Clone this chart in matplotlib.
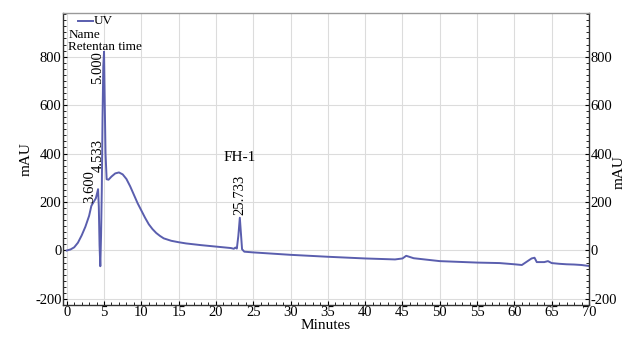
import numpy as np
import matplotlib
matplotlib.use("Agg")
import matplotlib.pyplot as plt
from matplotlib.ticker import MultipleLocator

plt.rcParams['font.family'] = ['Liberation Serif', 'DejaVu Serif']
plt.rcParams['axes.unicode_minus'] = False

# Chromatogram trace (time in minutes, absorbance in mAU)
time_min = [0.0, 0.5, 1.0, 1.5, 2.0, 2.5, 3.0, 3.3, 3.6, 3.9, 4.1, 4.2, 4.3, 4.4, 4.5,
            4.6, 4.7, 4.8, 4.9, 5.0, 5.1, 5.2, 5.35, 5.6, 6.0, 6.5, 7.0, 7.5, 8.0,
            8.5, 9.0, 9.5, 10.0, 10.5, 11.0, 11.5, 12.0, 12.5, 13.0, 14.0, 15.0,
            16.0, 18.0, 20.0, 22.0, 22.4, 22.6, 22.8, 23.0, 23.2, 23.35, 23.5, 23.8,
            25.0, 30.0, 35.0, 40.0, 44.0, 45.0, 45.5, 46.5, 50.0, 55.0, 58.0, 60.0,
            61.0, 62.3, 62.7, 63.0, 64.0, 64.5, 65.0, 66.0, 67.0, 68.0, 69.0, 70.0]
signal_mau = [0, 4, 13, 32, 62, 98, 143, 184, 200, 215, 240, 253, 180, 20, -65,
              60, 250, 550, 760, 820, 600, 400, 294, 292, 305, 318, 322, 314, 295,
              265, 230, 195, 165, 135, 108, 88, 72, 60, 50, 40, 34,
              29, 22, 16, 10, 7, 12, 8, 60, 135, 70, 5, -5,
              -8, -18, -26, -33, -37, -33, -22, -32, -44, -50, -52, -57,
              -60, -33, -30, -48, -48, -44, -52, -55, -57, -58, -60, -64]

x_ticks = list(range(0, 75, 5))
y_ticks = [-200, 0, 200, 400, 600, 800]

# Peak annotations: (text, x, y-bottom)
peak_labels = [("3.600", 3.05, 195), ("4.533", 4.2, 325), ("5.000", 4.1, 685),
               ("25.733", 23.2, 145)]

fig = plt.figure(figsize=(6.25, 3.37), dpi=100)
ax = fig.add_axes([0.1008, 0.095, 0.8416, 0.8664])

line_color = '#5a5eae'
ax.plot(time_min, signal_mau, color=line_color, lw=1.4)

ax.set_xlim(-0.5, 70)
ax.set_ylim(-225, 980)
ax.set_xticks(x_ticks)
ax.set_yticks(y_ticks)
ax.xaxis.set_minor_locator(MultipleLocator(1))
ax.yaxis.set_minor_locator(MultipleLocator(25))
ax.grid(True, which='major', color='#dcdcdc', lw=0.8)
ax.set_axisbelow(True)

ax.tick_params(which='both', direction='in', labelsize=10.5, pad=1,
               left=True, right=True, bottom=True, top=False,
               labelright=True, labelleft=True)
ax.tick_params(which='major', length=3, width=0.8)
ax.tick_params(which='minor', length=2, width=0.6)
for s in ax.spines.values():
    s.set_color('#333333')
    s.set_linewidth(1.0)
ax.spines['top'].set_color('#999999')

ax.set_xlabel('Minutes', fontsize=11, labelpad=0)
ax.set_ylabel('mAU', fontsize=11, labelpad=2)
fig.text(0.99, 0.49, 'mAU', rotation=90, fontsize=11, va='center', ha='center')

for txt, xx, yy in peak_labels:
    ax.text(xx, yy, txt, rotation=90, fontsize=10.5, ha='center', va='bottom')
ax.text(23.2, 355, 'FH-1', fontsize=11, ha='center', va='bottom')

# legend-like header text
ax.plot([1.5, 3.5], [945, 945], color=line_color, lw=1.4)
ax.text(3.6, 945, 'UV', fontsize=9.5, va='center', ha='left')
ax.text(0.2, 890, 'Name', fontsize=9.5, va='center', ha='left')
ax.text(0.2, 840, 'Retentan time', fontsize=9.5, va='center', ha='left')

fig.savefig('out.png', dpi=100)
